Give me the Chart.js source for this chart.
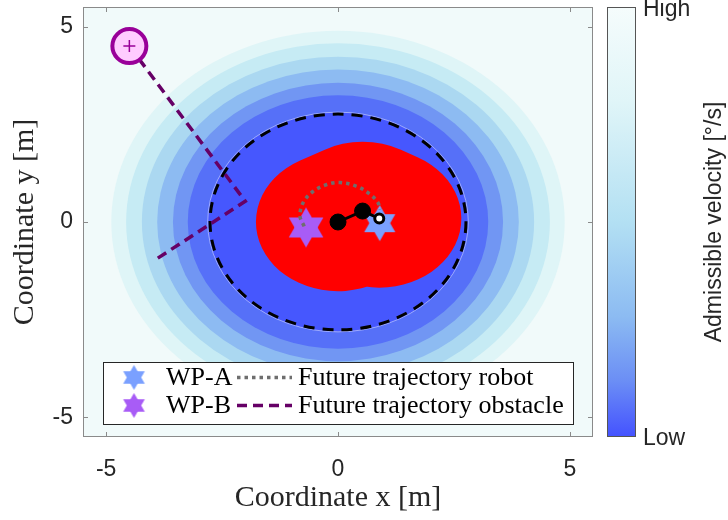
<!DOCTYPE html>
<html>
<head>
<meta charset="utf-8">
<script src="https://cdn.jsdelivr.net/npm/chart.js@4.4.1/dist/chart.umd.min.js"></script>
<style>
  html, body { margin: 0; padding: 0; background: #fff; }
</style>
</head>
<body>
<canvas id="mychart" width="728" height="520"></canvas>
<script>
// velocity field: ring radii (m) and fill colours, outermost first
const bandRadius = [4.89, 4.57, 4.23, 3.90, 3.56, 3.24, 2.81];
const bandColor = ['#dff5f7', '#c6ebf4', '#abd8f1', '#8dbbf2', '#7196f3', '#5670f8', '#4657fe'];
const fieldBg = '#f1fafa';
const safeRadius = 2.76;

// robot arm joints (base, elbow, end effector) and reach radius
const robotX = [0, 0.53, 0.89];
const robotY = [0, 0.28, 0.09];
const reachRadius = 1.77;

// planned end effector path
const trajX = [-0.73, -0.82, -0.75, -0.54, -0.24, 0.04, 0.41, 0.69, 0.86, 0.91];
const trajY = [-0.11, 0.15, 0.50, 0.78, 0.96, 1.01, 0.91, 0.71, 0.50, 0.32];

// obstacle position and its predicted path
const obstX = [-4.5, -2.0, -3.92];
const obstY = [4.5, 0.53, -0.95];

const wpA = [0.9, -0.03];
const wpB = [-0.69, -0.14];

const tickVals = [-5, 0, 5];

const sans = 'Liberation Sans';
const serif = 'Liberation Serif';
const ink = '#262626';

function hexagram(color, r) {
    const c = document.createElement('canvas');
    const s = Math.ceil(2 * r) + 2;
    c.width = s; c.height = s;
    const g = c.getContext('2d');
    g.fillStyle = color;
    g.translate(s / 2, s / 2);
    for (const start of [-90, 90]) {
        g.beginPath();
        for (let k = 0; k < 3; k++) {
            const a = (start + 120 * k) * Math.PI / 180;
            if (k) g.lineTo(r * Math.cos(a), r * Math.sin(a));
            else g.moveTo(r * Math.cos(a), r * Math.sin(a));
        }
        g.closePath();
        g.fill();
    }
    return c;
}

const colA = '#7aa0ff', colB = '#a85cf6';
const starA = hexagram(colA, 18), starB = hexagram(colB, 20);
const legStarA = hexagram(colA, 12.5), legStarB = hexagram(colB, 12.5);

const pts = (xs, ys) => xs.map((v, i) => ({x: v, y: ys[i]}));

// background field, reach region and safety circle
const fieldPlugin = {
    id: 'field',
    beforeDatasetsDraw(chart) {
        const {ctx, chartArea: a, scales: {x, y}} = chart;
        const cx = x.getPixelForValue(0), cy = y.getPixelForValue(0);
        const kx = x.getPixelForValue(1) - cx, ky = cy - y.getPixelForValue(1);
        ctx.save();
        ctx.beginPath();
        ctx.rect(a.left, a.top, a.width, a.height);
        ctx.clip();
        ctx.fillStyle = fieldBg;
        ctx.fillRect(a.left, a.top, a.width, a.height);
        bandRadius.forEach((r, i) => {
            ctx.beginPath();
            ctx.ellipse(cx, cy, r * kx, r * ky, 0, 0, 2 * Math.PI);
            ctx.fillStyle = bandColor[i];
            ctx.fill();
        });
        const rIn = bandRadius[bandRadius.length - 1];
        ctx.beginPath();
        ctx.ellipse(cx, cy, rIn * kx, rIn * ky, 0, 0, 2 * Math.PI);
        ctx.strokeStyle = 'rgba(255,255,255,0.45)';
        ctx.lineWidth = 1;
        ctx.stroke();

        // swept reach of the arm
        ctx.save();
        ctx.translate(cx, cy);
        ctx.scale(kx, -ky);
        ctx.beginPath();
        robotX.forEach((v, i) => i ? ctx.lineTo(v, robotY[i]) : ctx.moveTo(v, robotY[i]));
        ctx.lineWidth = 2 * reachRadius;
        ctx.lineCap = 'round';
        ctx.lineJoin = 'round';
        ctx.strokeStyle = '#ff0000';
        ctx.stroke();
        ctx.restore();

        ctx.beginPath();
        ctx.ellipse(cx, cy, safeRadius * kx, safeRadius * ky, 0, 0, 2 * Math.PI);
        ctx.setLineDash([11, 8]);
        ctx.lineWidth = 3;
        ctx.strokeStyle = '#000';
        ctx.stroke();
        ctx.restore();
    }
};

// box, inward ticks, colorbar and legend
const decorPlugin = {
    id: 'decor',
    afterDraw(chart) {
        const {ctx, chartArea: a, scales: {x, y}} = chart;
        ctx.save();
        ctx.strokeStyle = '#8a8a8a';
        ctx.lineWidth = 1;
        ctx.strokeRect(a.left + 0.5, a.top + 0.5, a.width - 1, a.height - 1);
        ctx.beginPath();
        tickVals.forEach(v => {
            const px = Math.round(x.getPixelForValue(v)) + 0.5;
            ctx.moveTo(px, a.bottom); ctx.lineTo(px, a.bottom - 5);
            ctx.moveTo(px, a.top); ctx.lineTo(px, a.top + 5);
            const py = Math.round(y.getPixelForValue(v)) + 0.5;
            ctx.moveTo(a.left, py); ctx.lineTo(a.left + 5, py);
            ctx.moveTo(a.right, py); ctx.lineTo(a.right - 5, py);
        });
        ctx.stroke();

        // colorbar
        const bx = 607, bw = 28, top = a.top, bot = a.bottom;
        const grd = ctx.createLinearGradient(0, top, 0, bot);
        grd.addColorStop(0, '#f5fcfc');
        grd.addColorStop(0.22, '#e0f5f8');
        grd.addColorStop(0.5, '#b3e0f3');
        grd.addColorStop(0.72, '#8cbbf2');
        grd.addColorStop(0.87, '#6b8ef5');
        grd.addColorStop(1, '#4452ff');
        ctx.fillStyle = grd;
        ctx.fillRect(bx, top, bw, bot - top);
        ctx.strokeStyle = '#555';
        ctx.strokeRect(bx + 0.5, top + 0.5, bw, bot - top - 1);
        ctx.fillStyle = ink;
        ctx.font = `23px "${sans}"`;
        ctx.textAlign = 'left';
        ctx.textBaseline = 'middle';
        ctx.fillText('High', 643, top + 3);
        ctx.fillText('Low', 643, bot + 2);
        ctx.save();
        ctx.translate(715, (top + bot) / 2);
        ctx.rotate(-Math.PI / 2);
        ctx.textAlign = 'center';
        ctx.fillText('Admissible velocity [°/s]', 0, 0);
        ctx.restore();

        // legend
        const ds = chart.data.datasets;
        const lx = 103, ly = 362, lw = 470, lh = 62;
        ctx.fillStyle = '#fff';
        ctx.fillRect(lx, ly, lw, lh);
        ctx.strokeStyle = ink;
        ctx.strokeRect(lx + 0.5, ly + 0.5, lw, lh);
        const rows = [ly + 15.5, ly + 43.5];
        const icons = [legStarA, legStarB];
        const names = [ds.find(d => d.id === 'wpA').label, ds.find(d => d.id === 'wpB').label];
        const lines = [ds.find(d => d.id === 'traj'), ds.find(d => d.id === 'obst')];
        ctx.font = `26px "${serif}"`;
        ctx.textBaseline = 'middle';
        rows.forEach((ry, i) => {
            ctx.drawImage(icons[i], 134 - icons[i].width / 2, ry - icons[i].height / 2);
            ctx.fillStyle = '#000';
            ctx.fillText(names[i], 166, ry + 1);
            ctx.beginPath();
            ctx.moveTo(237, ry); ctx.lineTo(292, ry);
            ctx.setLineDash(lines[i].borderDash);
            ctx.strokeStyle = lines[i].borderColor;
            ctx.lineWidth = lines[i].borderWidth;
            ctx.stroke();
            ctx.setLineDash([]);
            ctx.fillText(lines[i].label, 298, ry + 1);
        });
        ctx.restore();
    }
};

const ctx = document.getElementById('mychart');
new Chart(ctx, {
    type: 'scatter',
    data: {
        datasets: [
            {
                label: 'Obstacle centre', data: pts([obstX[0]], [obstY[0]]), order: 0,
                pointStyle: 'cross', pointRadius: 6, borderColor: '#990099', pointBorderWidth: 1.5
            },
            {
                label: 'Obstacle', data: pts([obstX[0]], [obstY[0]]), order: 1,
                pointRadius: 17, pointBorderWidth: 4, borderColor: '#990099', backgroundColor: '#ffccff'
            },
            {
                label: 'Robot', data: pts(robotX, robotY), order: 2, showLine: true,
                borderColor: '#000', borderWidth: 3,
                pointRadius: [8, 8, 4.5], pointBorderWidth: [1, 1, 3],
                pointBackgroundColor: ['#000', '#000', '#fff'], pointBorderColor: '#000'
            },
            {
                id: 'traj', label: 'Future trajectory robot', data: pts(trajX, trajY), order: 3,
                showLine: true, tension: 0.35, borderColor: '#6e6e6e', borderWidth: 3.5,
                borderDash: [3.5, 4], pointRadius: 0
            },
            {
                id: 'obst', label: 'Future trajectory obstacle', data: pts(obstX, obstY), order: 4,
                showLine: true, borderColor: '#660066', borderWidth: 3.5,
                borderDash: [10, 6], pointRadius: 0
            },
            {
                id: 'wpA', label: 'WP-A', data: pts([wpA[0]], [wpA[1]]), order: 5,
                pointStyle: starA
            },
            {
                id: 'wpB', label: 'WP-B', data: pts([wpB[0]], [wpB[1]]), order: 5,
                pointStyle: starB
            }
        ]
    },
    options: {
        responsive: false,
        animation: false,
        devicePixelRatio: 1,
        layout: { autoPadding: false, padding: { top: 7, right: 135, left: 0, bottom: 0 } },
        plugins: { legend: { display: false }, tooltip: { enabled: false } },
        scales: {
            x: {
                type: 'linear', min: -5.5, max: 5.5,
                afterBuildTicks: s => { s.ticks = tickVals.map(v => ({value: v})); },
                afterFit: s => { s.height = 83; s.paddingLeft = 0; s.paddingRight = 0; },
                grid: { display: false }, border: { display: false },
                ticks: { font: { family: sans, size: 23 }, color: ink, padding: 11 },
                title: {
                    display: true, text: 'Coordinate x [m]', color: ink,
                    font: { family: serif, size: 30 }, padding: { top: 0, bottom: 4 }
                }
            },
            y: {
                type: 'linear', min: -5.5, max: 5.5,
                afterBuildTicks: s => { s.ticks = tickVals.map(v => ({value: v})); },
                afterFit: s => { s.width = 83; s.paddingTop = 0; s.paddingBottom = 0; },
                grid: { display: false }, border: { display: false },
                ticks: { font: { family: sans, size: 23 }, color: ink, padding: 2 },
                title: {
                    display: true, text: 'Coordinate y [m]', color: ink,
                    font: { family: serif, size: 30 }, padding: { top: 7, bottom: 0 }
                }
            }
        }
    },
    plugins: [fieldPlugin, decorPlugin]
});
</script>
</body>
</html>
